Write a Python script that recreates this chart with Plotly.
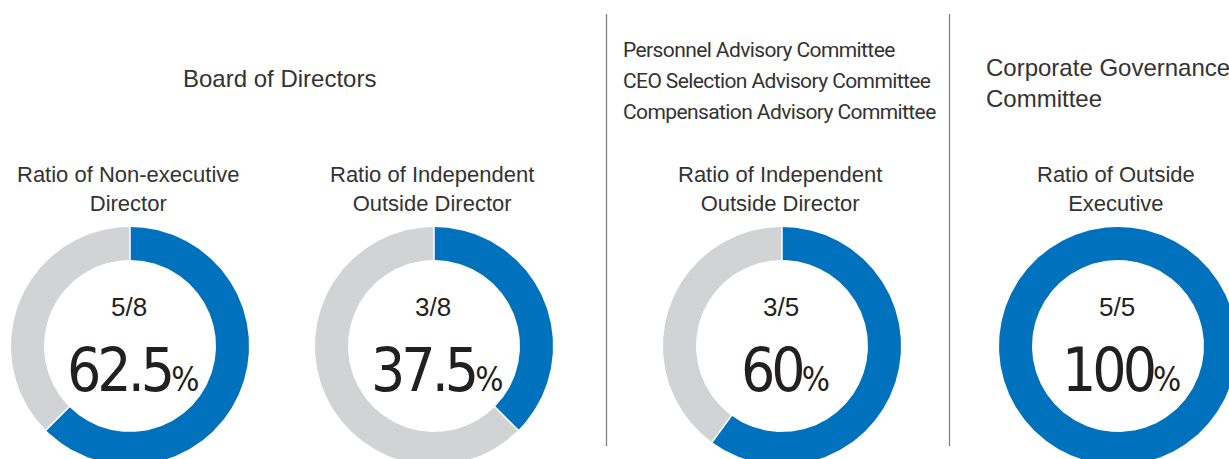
import numpy as np
import plotly.graph_objects as go

# --- data -------------------------------------------------------------
group_titles = [
    "Board of Directors",
    "Personnel Advisory Committee<br>CEO Selection Advisory Committee<br>Compensation Advisory Committee",
    "Corporate Governance<br>Committee",
]
ratio_titles = [
    "Ratio of Non-executive<br>Director",
    "Ratio of Independent<br>Outside Director",
    "Ratio of Independent<br>Outside Director",
    "Ratio of Outside<br>Executive",
]
members = [5, 3, 3, 5]
totals = [8, 8, 5, 5]

# --- layout (pixel space) ---------------------------------------------
W, H = 1229, 459
centers_x = [130, 434, 782, 1118]
center_y = 346
r_out, r_in = 119, 86
title_x = [279, 621, 984]
title_y = [78, 50, 83]
title_line_gap = [0, 31, 0]
title_anchor = ["center", "left", "left"]
sub_y = 189
sep_x = [606.5, 949.5]

BLUE = "#0071bc"
GREY = "#d1d3d4"
TEXT = "#333333"
DARK = "#231f20"

BODY_FONT = "Liberation Sans, Arial, sans-serif"
NARROW_FONT = "DejaVu Sans Condensed, Liberation Sans Narrow, sans-serif"


def annulus(cx, cy, a0, a1):
    """Closed ring segment from angle a0 to a1 (radians, clockwise from 12 o'clock)."""
    n = max(int((a1 - a0) * 80), 4)
    t = np.linspace(a0, a1, n)
    xo, yo = cx + r_out * np.sin(t), cy - r_out * np.cos(t)
    xi, yi = cx + r_in * np.sin(t[::-1]), cy - r_in * np.cos(t[::-1])
    x = np.concatenate([xo, xi, xo[:1]])
    y = np.concatenate([yo, yi, yo[:1]])
    return x, y


fig = go.Figure()

for i, (m, t) in enumerate(zip(members, totals)):
    share = m / t
    cx = centers_x[i]
    split = 2 * np.pi * share
    segments = [(0.0, split, BLUE), (split, 2 * np.pi, GREY)]
    for a0, a1, col in segments:
        if a1 - a0 <= 1e-9:
            continue
        x, y = annulus(cx, center_y, a0, a1)
        fig.add_trace(go.Scatter(x=x, y=y, mode="lines", fill="toself",
                                 fillcolor=col, line=dict(width=0, color=col),
                                 hoverinfo="skip", showlegend=False))
    # thin white gaps between the two segments
    if 0 < share < 1:
        for a in (0.0, split):
            fig.add_trace(go.Scatter(
                x=[cx + (r_in - 1) * np.sin(a), cx + (r_out + 1) * np.sin(a)],
                y=[center_y - (r_in - 1) * np.cos(a), center_y - (r_out + 1) * np.cos(a)],
                mode="lines", line=dict(color="white", width=1.5),
                hoverinfo="skip", showlegend=False))

    pct = f"{share * 100:g}"
    fig.add_annotation(x=cx - 1, y=center_y - 39, text=f"{m}/{t}", showarrow=False,
                       xanchor="center", yanchor="middle",
                       font=dict(family=BODY_FONT, size=26, color=DARK))
    fig.add_annotation(
        x=cx + 3, y=center_y + 24,
        text=(f"<span style='letter-spacing:-4px'>{pct}</span>"
              f"<span style='font-size:33px'>%</span>"),
        showarrow=False, xanchor="center", yanchor="middle",
        font=dict(family=NARROW_FONT, size=60, color=DARK))
    fig.add_annotation(x=cx - 2, y=sub_y, text=ratio_titles[i], showarrow=False,
                       xanchor="center", yanchor="middle", align="center",
                       font=dict(family=BODY_FONT, size=22, color=TEXT))

for j, txt in enumerate(group_titles):
    if title_line_gap[j]:
        # committee list: one annotation per line for wider line spacing
        for k, line in enumerate(txt.split("<br>")):
            fig.add_annotation(
                x=title_x[j], y=title_y[j] + k * title_line_gap[j],
                text=f"<span style='letter-spacing:-0.6px'>{line}</span>",
                showarrow=False, xanchor=title_anchor[j], yanchor="middle",
                font=dict(family="Roboto, sans-serif", size=21, color=TEXT))
    else:
        fig.add_annotation(x=title_x[j], y=title_y[j], text=txt, showarrow=False,
                           xanchor=title_anchor[j], yanchor="middle",
                           align=title_anchor[j],
                           font=dict(family=BODY_FONT, size=24, color=TEXT))

for sx in sep_x:
    fig.add_shape(type="line", x0=sx, x1=sx, y0=14, y1=446,
                  line=dict(color="#808080", width=1.3))

fig.update_xaxes(range=[0, W], visible=False, fixedrange=True)
fig.update_yaxes(range=[H, 0], visible=False, fixedrange=True)
fig.update_layout(width=W, height=H, margin=dict(l=0, r=0, t=0, b=0),
                  paper_bgcolor="white", plot_bgcolor="white")

fig.write_html("out.html")
